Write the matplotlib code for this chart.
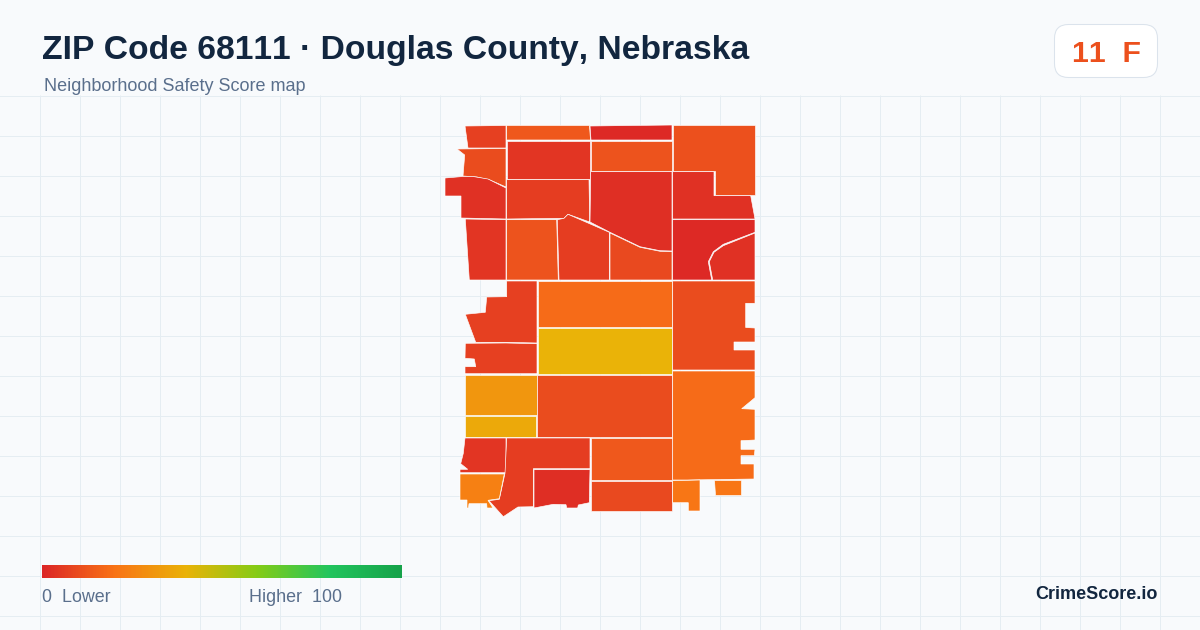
import numpy as np
import matplotlib
matplotlib.use('Agg')
import matplotlib.pyplot as plt
from matplotlib.colors import LinearSegmentedColormap
from matplotlib.patches import FancyBboxPatch, Polygon

plt.rcParams['font.family'] = ['Liberation Sans', 'DejaVu Sans']
plt.rcParams['text.kerning_factor'] = 6

title = 'ZIP Code 68111 · Douglas County, Nebraska'
subtitle = 'Neighborhood Safety Score map'
overall_score = 11
overall_grade = 'F'

# score scale, same stops as the legend bar
scale_stops = [0, 20, 40, 60, 80, 100]
scale_colors = ['#dc2626', '#f97316', '#eab308', '#84cc16', '#22c55e', '#16a34a']

# neighborhood scores
scores = [7, 13, 1, 11, 10, 3, 4, 6, 12, 2.5, 3, 4, 12, 6, 9, 1, 3,
          7, 18, 40, 10, 7, 31, 37, 10, 18, 4, 6, 2, 24, 13, 9, 21, 21]

# neighborhood outlines (image pixels)
outlines = [
    [(465, 126), (506, 125.5), (506, 148), (468, 148)],
    [(506.7, 125.5), (589.5, 125.5), (590.5, 140), (506.7, 140)],
    [(590, 126), (672, 125), (672, 140), (591, 140)],
    [(672.7, 125), (755, 125), (755, 195), (714.7, 195), (714.7, 171), (672.7, 171)],
    [(457, 149), (506, 148.5), (506, 187), (490, 180), (477, 177), (463, 176), (464.7, 155)],
    [(445, 178), (463, 176.5), (473, 176.5), (488, 179), (506, 188), (506, 219), (461, 218),
     (461, 196), (445, 196)],
    [(506.7, 141), (589.7, 141), (589.7, 179), (506.7, 179)],
    [(506.7, 179.7), (589, 179.7), (589.7, 222), (568, 214.3), (564, 218.3), (506.7, 219)],
    [(590.7, 140.7), (672, 140.7), (672, 171), (590.7, 171)],
    [(590.7, 171.7), (672, 171.7), (672, 251), (660, 250.7), (640, 246.7), (610, 232.3), (590, 222)],
    [(672.7, 171.7), (714, 171.7), (714, 195.7), (750.7, 195.7), (755, 219), (672.7, 219)],
    [(465.3, 219), (506, 219.7), (506, 280), (469.3, 280)],
    [(506.7, 219.7), (556.7, 219.7), (558.3, 280), (506.7, 280)],
    [(557.3, 219.7), (564, 218.3), (568, 214.3), (609.3, 232.3), (609.3, 280), (559, 280)],
    [(610, 233), (640, 247.3), (660, 251.3), (672, 251.7), (672, 280), (610, 280)],
    [(672.7, 219.7), (755, 219.7), (755, 232.3), (723.3, 244.3), (713.3, 251.7), (708.3, 261.7),
     (711.7, 280), (672.7, 280)],
    [(755, 233), (755, 280), (712.7, 280), (709.3, 261.7), (714, 252.3), (723.3, 245.7)],
    [(506.7, 281), (537, 281), (537, 343), (506, 342.3), (475.7, 342.3), (465.3, 314.3),
     (485.3, 312.3), (486.7, 297), (506.7, 296.7)],
    [(538, 281), (672, 281), (672, 327), (538, 327)],
    [(538, 327.7), (672, 327.7), (672, 373.7), (538, 373.7)],
    [(672.7, 281), (755, 281), (755, 303.3), (745.7, 303.3), (745.7, 327.5), (755, 328), (755, 342),
     (734, 342), (734, 350), (755, 350), (755, 370), (672.7, 370)],
    [(465.3, 343.3), (506, 343), (537, 343.7), (537, 373.7), (465, 373.7), (465, 366.7),
     (475.7, 366.7), (474.3, 359), (465, 358.3)],
    [(465, 374.7), (537, 374.7), (537, 414.5), (465, 414.5)],
    [(465, 416), (536, 416), (536, 436.7), (465, 436.7)],
    [(537.3, 374.7), (672, 374.7), (672, 436.7), (537, 436.7)],
    [(672.7, 371), (755, 371), (755, 397.7), (741.7, 408.7), (755, 409.3), (755, 440), (741, 440.7),
     (741, 449.3), (755, 449.3), (754.3, 455.7), (741, 455.7), (741, 464), (754, 464), (754, 479),
     (687, 480), (672.7, 480)],
    [(465, 438), (506, 438), (506, 472.7), (460, 472.7), (460, 469.3), (467.7, 469.3),
     (460.7, 463.7), (463.3, 453.3)],
    [(506.7, 438), (590, 438), (590, 468.7), (533.3, 468.7), (533.3, 506.7), (518, 507),
     (503.3, 516.7), (489, 500.7), (499.3, 499.3), (505, 473.3)],
    [(534, 469.7), (590, 469.7), (589.3, 502.7), (578.3, 505), (577.7, 508), (566.7, 508),
     (566, 504.7), (553.3, 504.3), (534, 508)],
    [(460, 474), (504.3, 474), (499.3, 498.7), (488, 500.3), (493, 508), (487, 508), (486.7, 503.7),
     (469, 503.7), (468.5, 508), (467, 508), (467, 500), (460, 500)],
    [(590.7, 438), (672, 438), (672, 480), (590.7, 480)],
    [(591, 480.7), (672, 480.7), (672, 511), (591, 511)],
    [(672.7, 480.7), (700, 480), (700, 511), (688.3, 511), (688.3, 502.7), (672.7, 502.7)],
    [(714, 480), (741, 480), (741, 494.7), (715.3, 494.7)],
]

cmap = LinearSegmentedColormap.from_list(
    'safety', [(s / 100, c) for s, c in zip(scale_stops, scale_colors)])

fig = plt.figure(figsize=(12, 6.3), dpi=100, facecolor='#f8fafc')
ax = fig.add_axes([0, 0, 1, 1])
ax.set_facecolor('#f8fafc')

# background grid starts under the header
for x in range(40, 1200, 40):
    ax.plot([x + 0.5, x + 0.5], [96, 630], color='#e5edf2', lw=0.72, zorder=1, snap=False)
for y in range(96, 630, 40):
    ax.plot([0, 1200], [y + 0.5, y + 0.5], color='#e5edf2', lw=0.72, zorder=1, snap=False)

for outline, score in zip(outlines, scores):
    ax.add_patch(Polygon(outline, closed=True, facecolor=cmap(score / 100),
                         edgecolor='white', lw=0.45, zorder=2))

# header
ax.text(42, 59, title, fontsize=24.2, fontweight='bold', color='#12263f', va='baseline', zorder=3)
ax.text(44, 91, subtitle, fontsize=12.96, color='#5a6f8c', va='baseline', zorder=3)

# score badge
ax.add_patch(FancyBboxPatch((1054.5 + 14, 24.5 + 14), 103 - 28, 53 - 28,
                            boxstyle='round,pad=14,rounding_size=14',
                            facecolor='white', edgecolor='#dbe3ec', lw=0.75, zorder=3))
ax.text(1106, 62, f'{overall_score}  {overall_grade}', fontsize=21.8, fontweight='bold',
        color=cmap(overall_score / 100), ha='center', va='baseline', zorder=4)

# legend bar
gradient = np.linspace(0, 1, 360).reshape(1, -1)
ax.imshow(gradient, cmap=cmap, extent=(42, 402, 578, 565), aspect='auto', zorder=3,
          interpolation='bilinear')
ax.text(42, 602.5, '0  Lower', fontsize=12.9, color='#5a6f8c', va='baseline', zorder=3)
ax.text(249, 602.5, 'Higher  100', fontsize=12.9, color='#5a6f8c', va='baseline', zorder=3)

ax.text(1158, 599, 'CrimeScore.io', fontsize=13, fontweight='bold', color='#12263f',
        ha='right', va='baseline', zorder=3)

ax.set_xlim(0, 1200)
ax.set_ylim(630, 0)
ax.axis('off')

fig.savefig('out.png', dpi=100, facecolor=fig.get_facecolor())
